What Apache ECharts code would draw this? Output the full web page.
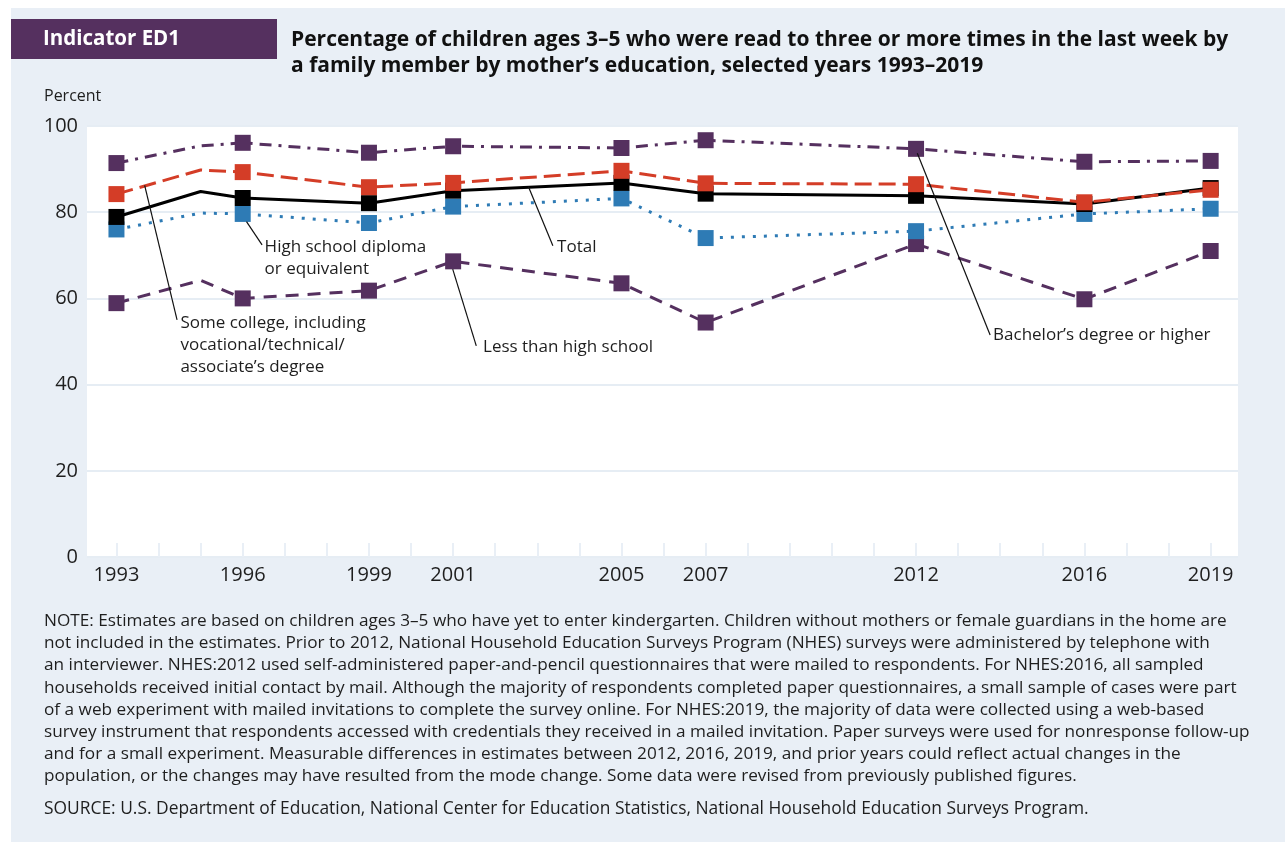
<!DOCTYPE html>
<html>
<head>
<meta charset="utf-8">
<script src="https://cdn.jsdelivr.net/npm/echarts@6/dist/echarts.min.js"></script>
<style>
html,body{margin:0;padding:0;background:#fff;}
#chart{width:1285px;height:842px;}
</style>
</head>
<body>
<div id="chart"></div>
<script>
// ---- data ----
const years = [1993, 1995, 1996, 1999, 2001, 2005, 2007, 2012, 2016, 2019];
const markerYears = [1993, 1996, 1999, 2001, 2005, 2007, 2012, 2016, 2019];
const tickLabelYears = [1993, 1996, 1999, 2001, 2005, 2007, 2012, 2016, 2019];
const bachelors   = [91.4, 95.4, 96.1, 93.8, 95.3, 94.9, 96.7, 94.7, 91.7, 91.9];
const lessThanHS  = [58.9, 64.2, 60.0, 61.8, 68.6, 63.5, 54.4, 72.6, 59.8, 71.0];
const hsDiploma   = [76.0, 79.8, 79.6, 77.5, 81.3, 83.2, 74.0, 75.6, 79.6, 80.8];
const total       = [78.9, 84.8, 83.3, 82.1, 85.0, 86.8, 84.3, 83.8, 81.9, 85.6];
const someCollege = [84.2, 89.8, 89.3, 85.8, 86.8, 89.6, 86.7, 86.5, 82.3, 85.2];
const yTicks = [0, 20, 40, 60, 80, 100];

const FONT = '"Open Sans", "DejaVu Sans", sans-serif';
const TXT = '#1e1e1e';

function mkData(vals) {
  return years.map((y, i) => ({
    value: [y, vals[i]],
    symbol: markerYears.includes(y) ? 'rect' : 'none'
  }));
}
function mkSeries(name, vals, color, dash, z) {
  return {
    name: name, type: 'line', data: mkData(vals),
    symbol: 'rect', symbolSize: 16, showSymbol: true,
    itemStyle: { color: color },
    lineStyle: { color: color, width: 3, type: dash },
    z: z, animation: false, silent: true
  };
}

const allYears = [];
for (let y = 1993; y <= 2019; y++) allYears.push(y);

const noteLines = [
  'NOTE: Estimates are based on children ages 3–5 who have yet to enter kindergarten. Children without mothers or female guardians in the home are',
  'not included in the estimates. Prior to 2012, National Household Education Surveys Program (NHES) surveys were administered by telephone with',
  'an interviewer. NHES:2012 used self-administered paper-and-pencil questionnaires that were mailed to respondents. For NHES:2016, all sampled',
  'households received initial contact by mail. Although the majority of respondents completed paper questionnaires, a small sample of cases were part',
  'of a web experiment with mailed invitations to complete the survey online. For NHES:2019, the majority of data were collected using a web-based',
  'survey instrument that respondents accessed with credentials they received in a mailed invitation. Paper surveys were used for nonresponse follow-up',
  'and for a small experiment. Measurable differences in estimates between 2012, 2016, 2019, and prior years could reflect actual changes in the',
  'population, or the changes may have resulted from the mode change. Some data were revised from previously published figures.'
];
const sourceLine = 'SOURCE: U.S. Department of Education, National Center for Education Statistics, National Household Education Surveys Program.';

const chart = echarts.init(document.getElementById('chart'), null, { renderer: 'canvas' });

const option = {
  backgroundColor: '#e9eff6',
  animation: false,
  grid: { left: 87, top: 126, width: 1151, height: 431, show: true, backgroundColor: '#ffffff', borderWidth: 0 },
  xAxis: {
    type: 'value', min: 1992.3, max: 2019.65,
    axisLine: { show: false },
    splitLine: { show: false },
    axisTick: { show: true, inside: true, length: 14, customValues: allYears, lineStyle: { color: '#e9eff6', width: 2 } },
    axisLabel: { customValues: tickLabelYears, formatter: v => String(v), color: TXT, fontFamily: FONT, fontSize: 20, margin: 8 }
  },
  yAxis: {
    type: 'value', min: 0, max: 100, interval: 20,
    axisLine: { show: false }, axisTick: { show: false },
    splitLine: { show: true, lineStyle: { color: '#e6edf4', width: 2 } },
    axisLabel: { customValues: yTicks, color: TXT, fontFamily: FONT, fontSize: 20, margin: 9 }
  },
  series: [
    mkSeries("Bachelor's degree or higher", bachelors, '#55305f', [12, 7, 3, 7], 2),
    mkSeries('Less than high school', lessThanHS, '#55305f', [13, 9], 3),
    mkSeries('High school diploma or equivalent', hsDiploma, '#2e7bb5', [3, 8], 4),
    mkSeries('Total', total, '#000000', 'solid', 5),
    mkSeries('Some college, including vocational/technical/associate\u2019s degree', someCollege, '#d43d27', [17, 7], 6)
  ],
  graphic: [
    { type: 'rect', shape: { x: 0, y: 0, width: 1285, height: 8 }, style: { fill: '#ffffff' }, silent: true },
    { type: 'rect', shape: { x: 0, y: 0, width: 11, height: 842 }, style: { fill: '#ffffff' }, silent: true },
    { type: 'rect', shape: { x: 11, y: 19, width: 266, height: 40 }, style: { fill: '#55305f' }, silent: true },
    { type: 'text', x: 43, y: 39, style: { text: 'Indicator ED1', fill: '#ffffff', font: 'bold 20.5px ' + FONT, textVerticalAlign: 'middle' }, silent: true },
    { type: 'text', x: 291, y: 53, style: { text: 'Percentage of children ages 3–5 who were read to three or more times in the last week by\na family member by mother\u2019s education, selected years 1993–2019', fill: '#111', font: 'bold 21px ' + FONT, lineHeight: 26, textVerticalAlign: 'middle' }, silent: true },
    { type: 'text', x: 44, y: 96, style: { text: 'Percent', fill: TXT, font: '16px ' + FONT, textVerticalAlign: 'middle' }, silent: true },
    { type: 'text', x: 44, y: 610, style: { text: noteLines.join('\n'), fill: TXT, font: '17.2px ' + FONT, lineHeight: 22.2, textVerticalAlign: 'top' }, silent: true },
    { type: 'text', x: 44, y: 798, style: { text: sourceLine, fill: TXT, font: '17.4px ' + FONT, lineHeight: 22, textVerticalAlign: 'top' }, silent: true }
  ]
};
chart.setOption(option);

// ---- annotations (anchored in data coordinates) ----
const annotations = [
  { text: 'High school diploma\nor equivalent', from: [1996.09, 77.8], to: [1996.46, 72.4], at: [1996.52, 69.4] },
  { text: 'Some college, including\nvocational/technical/\nassociate\u2019s degree', from: [1993.67, 86.2], to: [1994.44, 55.0], at: [1994.52, 49.2] },
  { text: 'Total', from: [2002.79, 85.9], to: [2003.37, 72.2], at: [2003.47, 72.0] },
  { text: 'Less than high school', from: [2000.99, 66.8], to: [2001.55, 49.0], at: [2001.71, 48.8] },
  { text: 'Bachelor\u2019s degree or higher', from: [2012.03, 93.7], to: [2013.76, 51.5], at: [2013.83, 51.5] }
];
const extra = [];
annotations.forEach(a => {
  const p1 = chart.convertToPixel({ gridIndex: 0 }, a.from);
  const p2 = chart.convertToPixel({ gridIndex: 0 }, a.to);
  const pt = chart.convertToPixel({ gridIndex: 0 }, a.at);
  extra.push({ type: 'line', shape: { x1: p1[0], y1: p1[1], x2: p2[0], y2: p2[1] }, style: { stroke: '#111', lineWidth: 1.2 }, z: 100, silent: true });
  extra.push({ type: 'text', x: pt[0], y: pt[1], style: { text: a.text, fill: TXT, font: '17px ' + FONT, lineHeight: 22, textVerticalAlign: 'middle' }, z: 100, silent: true });
});
chart.setOption({ graphic: option.graphic.concat(extra) });
</script>
</body>
</html>
